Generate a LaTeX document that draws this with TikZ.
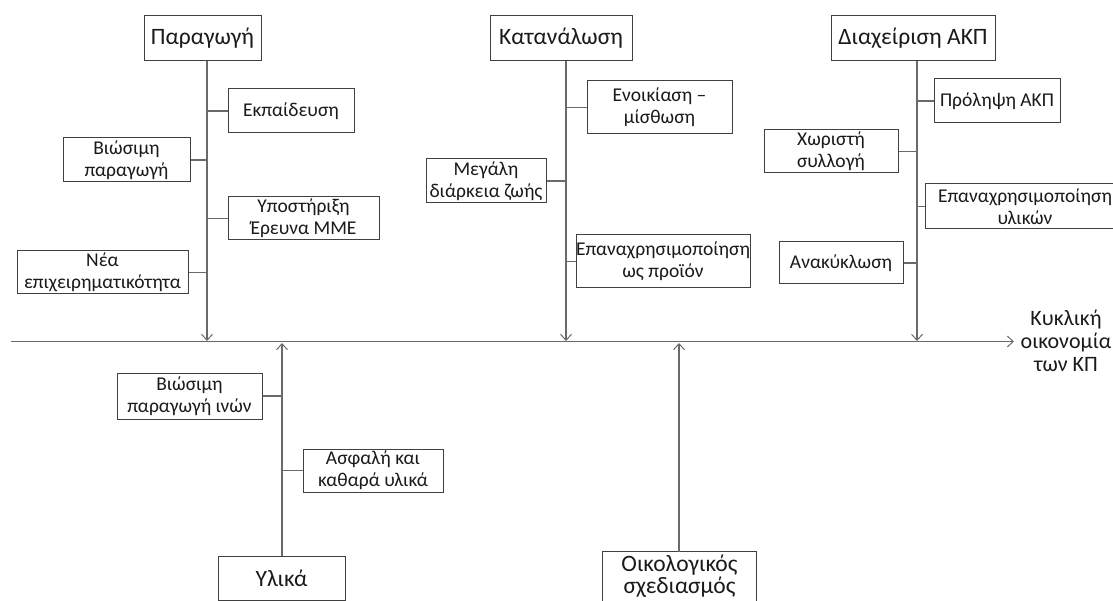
\documentclass[tikz,border=0pt]{standalone}
\usepackage{fontspec}
\setmainfont{Carlito}
\usetikzlibrary{arrows.meta}
\definecolor{linegray}{HTML}{6A6A6A}
\definecolor{boxline}{HTML}{404040}
\definecolor{txt}{HTML}{1A1A1A}
\tikzset{
  box/.style={draw=boxline, line width=1pt, fill=white, inner sep=0pt, align=center, text=txt, font=\fontsize{19.5}{22}\selectfont},
  bigbox/.style={box, font=\fontsize{23.5}{23}\selectfont},
  conn/.style={draw=linegray, line width=1.3pt},
  arr/.style={conn, -{Straight Barb[length=6pt,width=11pt,line width=1pt]}},
}
\begin{document}
\begin{tikzpicture}[x=1pt,y=-1pt]
\useasboundingbox (0,0) rectangle (1113,601);
\clip (0,0) rectangle (1113,601);

% spine coordinates
\coordinate (t1) at (207,341);
\coordinate (t2) at (566,341);
\coordinate (t3) at (917,341);
\coordinate (b1) at (282,343);
\coordinate (b2) at (679,343);
\coordinate (a0) at (11,341.5);
\coordinate (a1) at (1014,341.5);

% title boxes
\node[bigbox, minimum width=117pt, minimum height=45pt] (prod) at (202.5,38.5) {Παραγωγή};
\node[bigbox, minimum width=142pt, minimum height=45pt] (cons) at (561,38.5) {Κατανάλωση};
\node[bigbox, minimum width=164pt, minimum height=45pt] (mgmt) at (913,38.5) {Διαχείριση ΑΚΠ};
\node[bigbox, minimum width=127pt, minimum height=44pt] (ylika) at (281.5,578) {Υλικά};
\node[bigbox, draw=none, minimum width=153pt, minimum height=48pt, font=\fontsize{23.5}{22}\selectfont] (oikol) at (679.5,576) {Οικολογικός\\σχεδιασμός};
\draw[draw=boxline, line width=1pt] ([yshift=-12pt]oikol.south west) |- (oikol.north east) -- ([yshift=-12pt]oikol.south east);

% spines
\draw[arr] (prod.south -| t1) -- (t1);
\draw[arr] (cons.south -| t2) -- (t2);
\draw[arr] (mgmt.south -| t3) -- (t3);
\draw[arr] (ylika.north -| b1) -- (b1);
\draw[arr] (oikol.north -| b2) -- (b2);
\draw[arr] (a0) -- (a1);

% Production branches
\node[box, minimum width=126pt, minimum height=44pt] (ekp) at (291,111) {Εκπαίδευση};
\node[box, minimum width=127pt, minimum height=44pt] (viosp) at (126.5,160) {Βιώσιμη\\παραγωγή};
\node[box, minimum width=151pt, minimum height=43pt] (ypost) at (303.5,218.5) {Υποστήριξη\\Έρευνα ΜΜΕ};
\node[box, minimum width=171pt, minimum height=43pt] (nea) at (102.5,272.5) {Νέα\\επιχειρηματικότητα};
\draw[conn] (ekp.west) -- (ekp.west -| t1);
\draw[conn] (viosp.east) -- (viosp.east -| t1);
\draw[conn] (ypost.west) -- (ypost.west -| t1);
\draw[conn] (nea.east) -- (nea.east -| t1);

% Consumption branches
\node[box, minimum width=145pt, minimum height=53pt] (enoik) at (659.5,107.5) {Ενοικίαση –\\μίσθωση};
\node[box, minimum width=120pt, minimum height=44pt] (megali) at (486,181) {Μεγάλη\\διάρκεια ζωής};
\node[box, minimum width=172pt, minimum height=53pt] (epan1) at (663,261.5) {Επαναχρησιμοποίηση\\ως προϊόν};
\draw[conn] (enoik.west) -- (enoik.west -| t2);
\draw[conn] (megali.east) -- (megali.east -| t2);
\draw[conn] (epan1.west) -- (epan1.west -| t2);

% Waste management branches
\node[box, minimum width=126pt, minimum height=44pt] (prol) at (997,101) {Πρόληψη ΑΚΠ};
\node[box, minimum width=134pt, minimum height=43pt] (xor) at (831,151.5) {Χωριστή\\συλλογή};
\node[box, minimum width=200pt, minimum height=45pt, text width=190pt] (epan2) at (1025,206.5) {Επαναχρησιμοποίηση\\υλικών};
\node[box, minimum width=124pt, minimum height=42pt] (anak) at (841,263) {Ανακύκλωση};
\draw[conn] (prol.west) -- (prol.west -| t3);
\draw[conn] (xor.east) -- (xor.east -| t3);
\draw[conn] (epan2.west) -- (epan2.west -| t3);
\draw[conn] (anak.east) -- (anak.east -| t3);

% Materials branches
\node[box, minimum width=145pt, minimum height=46pt] (vinon) at (189.5,396) {Βιώσιμη\\παραγωγή ινών};
\node[box, minimum width=140pt, minimum height=43pt] (asf) at (373,470.5) {Ασφαλή και\\καθαρά υλικά};
\draw[conn] (vinon.east) -- (vinon.east -| b1);
\draw[conn] (asf.west) -- (asf.west -| b1);

% result label
\node[align=center, text=txt, font=\fontsize{22}{23}\selectfont] (kp) at (1066,341) {Κυκλική\\οικονομία\\των ΚΠ};
\end{tikzpicture}
\end{document}
